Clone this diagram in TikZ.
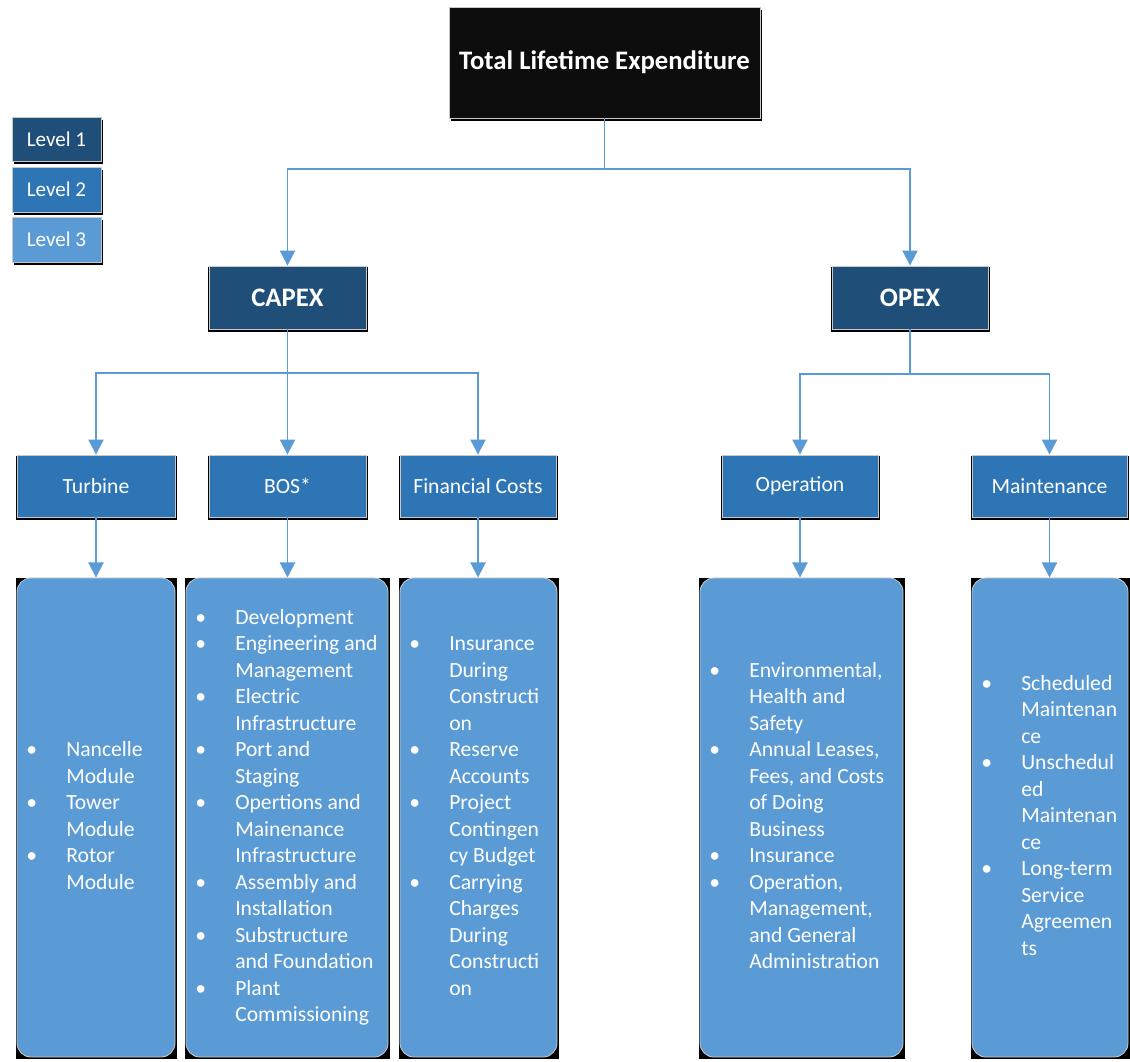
\documentclass[tikz,border=0pt]{standalone}
\usepackage{fontspec}
\setmainfont{Carlito}
\usetikzlibrary{arrows.meta}
\definecolor{lvlA}{HTML}{1F4E79}
\definecolor{lvlB}{HTML}{2E75B6}
\definecolor{lvlC}{HTML}{5B9BD5}
\definecolor{topfill}{HTML}{0D0D0D}
\definecolor{edgegray}{HTML}{C8C8C8}
\newcommand{\shd}[4]{\fill[black] (#1-1.5,#2+1) rectangle (#3+1.5,#4+3);}
\newcommand{\shdr}[4]{\fill[black] (#1-1.5,#2) rectangle (#3+1.5,#4+2);}
\newcommand{\lst}[1]{\begin{tabular}{@{}p{28.45pt}@{}l@{}}#1\end{tabular}}
\begin{document}
\begin{tikzpicture}[x=0.025cm,y=-0.025cm,
 sz/.style 2 args={minimum width=#1*0.7113pt, minimum height=#2*0.7113pt},
 box/.style={draw=edgegray, line width=0.6pt, inner sep=0pt, text=white},
 boxtop/.style={box, fill=topfill, font=\fontsize{19}{22}\selectfont\bfseries},
 boxA/.style={box, fill=lvlA, font=\fontsize{19}{22}\selectfont\bfseries},
 boxB/.style={box, fill=lvlB, font=\fontsize{15.4}{18.85}\selectfont},
 boxC/.style={box, fill=lvlC, rounded corners=10pt},
 legendbox/.style={box, font=\fontsize{15}{18}\selectfont},
 listtext/.style={anchor=west, inner sep=0pt, text=white, font=\fontsize{15.4}{18.85}\selectfont},
 conn/.style={draw=lvlC, line width=1.4pt, -{Triangle[length=10.7pt,width=10.7pt]}}
]
\fill[white] (0,0) rectangle (1130,1061);
\useasboundingbox (0,0) rectangle (1130,1061);

% ---------- top box ----------
\fill[black] (451,10) rectangle (762,121);
\node[boxtop, sz={311}{111}] (top) at (604.5,62.5) {Total Lifetime Expenditure};

% ---------- legend ----------
\fill[black] (14,120) rectangle (103,164);
\node[legendbox, fill=lvlA, sz={89}{44}] (leg1) at (56.5,139) {Level 1};
\fill[black] (14,170) rectangle (103,215);
\node[legendbox, fill=lvlB, sz={89}{45}] (leg2) at (56.5,189.5) {Level 2};
\fill[black] (14,220) rectangle (103,265);
\node[legendbox, fill=lvlC, sz={89}{45}] (leg3) at (56.5,239.5) {Level 3};

% ---------- level 1 ----------
\shd{209}{266}{366}{329}
\node[boxA, sz={157}{63}] (capex) at (287.5,297.5) {CAPEX};
\shd{832}{266}{988}{329}
\node[boxA, sz={156}{63}] (opex) at (910,297.5) {OPEX};

% ---------- level 2 ----------
\shd{17}{455}{175}{517}
\node[boxB, sz={158}{62}] (turbine) at (96,486) {Turbine};
\shd{209}{455}{366}{517}
\node[boxB, sz={157}{62}] (bos) at (287.5,486) {BOS*};
\shd{400}{455}{556}{517}
\node[boxB, sz={156}{62}] (fin) at (478,486) {Financial Costs};
\shd{722}{455}{878}{517}
\node[boxB, sz={156}{62}] (oper) at (800,486) {Operation};
\shd{972}{455}{1127}{517}
\node[boxB, sz={155}{62}] (maint) at (1049.5,486) {Maintenance};

% ---------- level 3 ----------
\shdr{17}{578}{175}{1057}
\node[boxC, sz={158}{479}] (turbinelist) at (96,817.5) {};
\shdr{186}{578}{388}{1057}
\node[boxC, sz={202}{479}] (boslist) at (287,817.5) {};
\shdr{400}{578}{557}{1057}
\node[boxC, sz={157}{479}] (finlist) at (478.5,817.5) {};
\shdr{700}{578}{903}{1057}
\node[boxC, sz={203}{479}] (operlist) at (801.5,817.5) {};
\shdr{972}{578}{1128}{1057}
\node[boxC, sz={156}{479}] (maintlist) at (1050,817.5) {};

\node[listtext] (turbinetxt) at (26,817.5) {\lst{%
\textbullet & Nancelle\\ & Module\\
\textbullet & Tower\\ & Module\\
\textbullet & Rotor\\ & Module}};

\node[listtext] (bostxt) at (195,817.5) {\lst{%
\textbullet & Development\\
\textbullet & Engineering and\\ & Management\\
\textbullet & Electric\\ & Infrastructure\\
\textbullet & Port and\\ & Staging\\
\textbullet & Opertions and\\ & Mainenance\\ & Infrastructure\\
\textbullet & Assembly and\\ & Installation\\
\textbullet & Substructure\\ & and Foundation\\
\textbullet & Plant\\ & Commissioning}};

\node[listtext] (fintxt) at (409,817.5) {\lst{%
\textbullet & Insurance\\ & During\\ & Constructi\\ & on\\
\textbullet & Reserve\\ & Accounts\\
\textbullet & Project\\ & Contingen\\ & cy Budget\\
\textbullet & Carrying\\ & Charges\\ & During\\ & Constructi\\ & on}};

\node[listtext] (opertxt) at (709,817.5) {\lst{%
\textbullet & Environmental,\\ & Health and\\ & Safety\\
\textbullet & Annual Leases,\\ & Fees, and Costs\\ & of Doing\\ & Business\\
\textbullet & Insurance\\
\textbullet & Operation,\\ & Management,\\ & and General\\ & Administration}};

\node[listtext] (mainttxt) at (981,817.5) {\lst{%
\textbullet & Scheduled\\ & Maintenan\\ & ce\\
\textbullet & Unschedul\\ & ed\\ & Maintenan\\ & ce\\
\textbullet & Long-term\\ & Service\\ & Agreemen\\ & ts}};

% ---------- connectors ----------
\coordinate (j1) at (604,169);
\coordinate (j2) at (287,373);
\coordinate (j3) at (910,374);
\draw[conn] (top.south) -- (top.south |- j1) -| (capex.north);
\draw[conn] (top.south) -- (top.south |- j1) -| (opex.north);
\draw[conn] (capex.south) -- (capex.south |- j2) -| (turbine.north);
\draw[conn] (capex.south) -- (bos.north);
\draw[conn] (capex.south) -- (capex.south |- j2) -| (fin.north);
\draw[conn] (opex.south) -- (opex.south |- j3) -| (oper.north);
\draw[conn] (opex.south) -- (opex.south |- j3) -| (maint.north);
\draw[conn] (turbine.south) -- (turbine.south |- turbinelist.north);
\draw[conn] (bos.south) -- (bos.south |- boslist.north);
\draw[conn] (fin.south) -- (fin.south |- finlist.north);
\draw[conn] (oper.south) -- (oper.south |- operlist.north);
\draw[conn] (maint.south) -- (maint.south |- maintlist.north);
\end{tikzpicture}
\end{document}
